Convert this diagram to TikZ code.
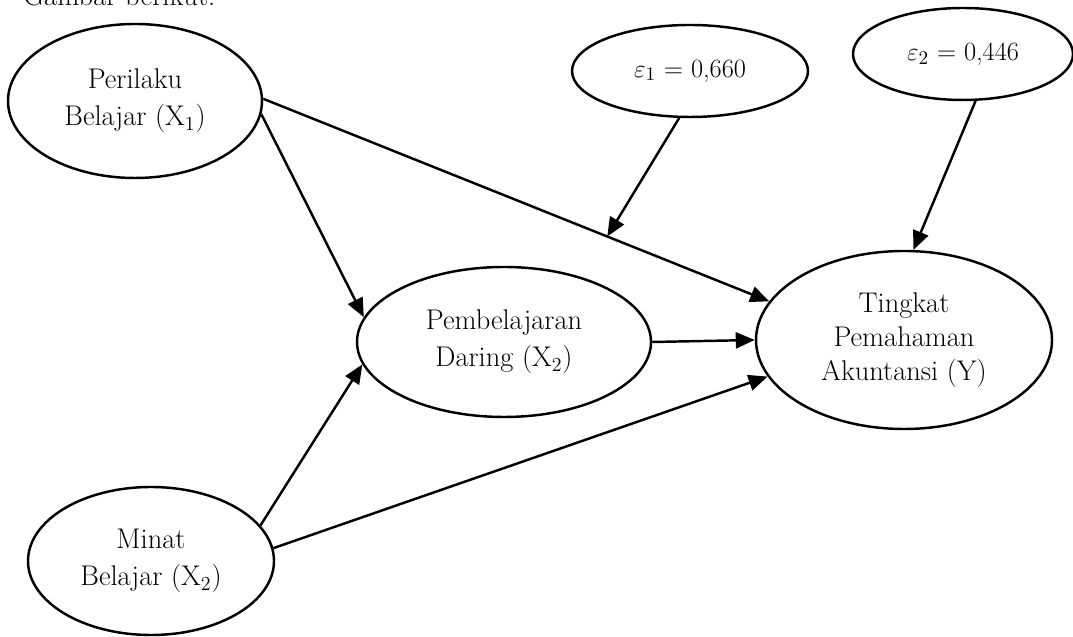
\documentclass[tikz,border=0pt]{standalone}
\usetikzlibrary{shapes.geometric, arrows.meta}

\begin{document}
\begin{tikzpicture}[
        var/.style={ellipse, draw, line width=1.4pt, inner sep=0pt, align=center,
            font=\fontsize{16.2}{21}\selectfont},
        arr/.style={-{Triangle[length=3.8mm, width=3.2mm]}, line width=1.4pt}
    ]
        \useasboundingbox (0,0) rectangle (21.46,12.74);

        % Testo in alto (tagliato)
        \node (cap) at (0.46, 12.62) [anchor=base west, inner sep=0pt,
            font=\fontsize{16.3}{20}\selectfont] {Gambar berikut.};

        % Variabili
        \node[var, minimum width=5.08cm, minimum height=3.08cm] (x1) at (2.70, 10.72)
            {Perilaku \\ Belajar (X\textsubscript{1})};
        \node[var, minimum width=4.92cm, minimum height=2.96cm] (x2) at (3.02, 1.52)
            {Minat \\ Belajar (X\textsubscript{2})};
        \node[var, minimum width=5.88cm, minimum height=3.00cm] (dar) at (10.08, 5.90)
            {Pembelajaran \\ Daring (X\textsubscript{2})};
        \node[var, minimum width=5.92cm, minimum height=3.56cm,
            font=\fontsize{16.2}{19.5}\selectfont] (y) at (18.08, 5.94)
            {Tingkat \\ Pemahaman \\ Akuntansi (Y)};

        % Errori
        \node[var, minimum width=4.72cm, minimum height=1.84cm,
            font=\fontsize{15}{18}\selectfont] (e1) at (13.80, 11.32)
            {$\varepsilon_1$ = 0,660};
        \node[var, minimum width=4.40cm, minimum height=1.84cm,
            font=\fontsize{15}{18}\selectfont] (e2) at (19.26, 11.66)
            {$\varepsilon_2$ = 0,446};

        % Percorsi
        \draw[arr] (x1.-6) -- (dar.170);
        \draw[arr] (x1.1) -- coordinate[pos=0.68] (hit) (y.164);
        \draw[arr] (x2.18) -- (dar.189);
        \draw[arr] (x2.6) -- (y.195);
        \draw[arr] (dar.0) -- (y.180);
        \draw[arr] (e1.-103) -- (hit);
        \draw[arr] (e2.-75) -- (y.84);
    \end{tikzpicture}
\end{document}
